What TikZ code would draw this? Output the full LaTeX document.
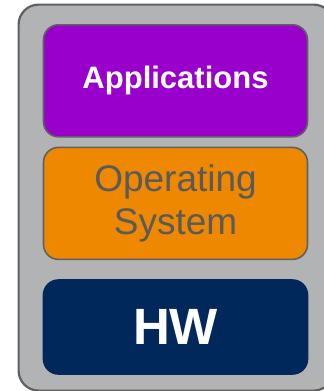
\documentclass[tikz,border=0pt]{standalone}
\usepackage{fontspec}
\setmainfont{Liberation Sans}
\usetikzlibrary{positioning}
\definecolor{appspurple}{HTML}{9900CC}
\definecolor{osorange}{HTML}{EE8800}
\definecolor{hwnavy}{HTML}{00285A}
\definecolor{framegray}{HTML}{B2B3B5}
\definecolor{edgegray}{HTML}{606060}
\definecolor{osgray}{HTML}{5A5A5A}

\begin{document}
\begin{tikzpicture}[x=1pt,y=1pt,node distance=9pt]

	\tikzstyle{layer}=[draw=edgegray,line width=1.6pt,rounded corners=15pt,minimum width=264pt,inner sep=0pt,align=center,anchor=north]

	\clip (0,0) rectangle (324,-391);

	\node[draw=edgegray, line width=2.2pt, fill=framegray, rounded corners=20pt, minimum width=315pt, minimum height=386pt, anchor=north west] (stack) at (17.5,-3.5) {};
	\node[layer, fill=appspurple, minimum height=112pt, text=white, font=\fontsize{31}{37}\selectfont\bfseries] (apps) at (175.5,-24) {Applications};
	\node[layer, below=9pt of apps, fill=osorange, minimum height=112pt, text=osgray, font=\fontsize{37}{43}\selectfont] (os) {Operating\\System};
	\node[layer, below=19pt of os, draw=hwnavy, fill=hwnavy, minimum height=94pt, text=white, font=\fontsize{51}{60}\selectfont\bfseries] (hw) {HW};
\end{tikzpicture}
\end{document}
